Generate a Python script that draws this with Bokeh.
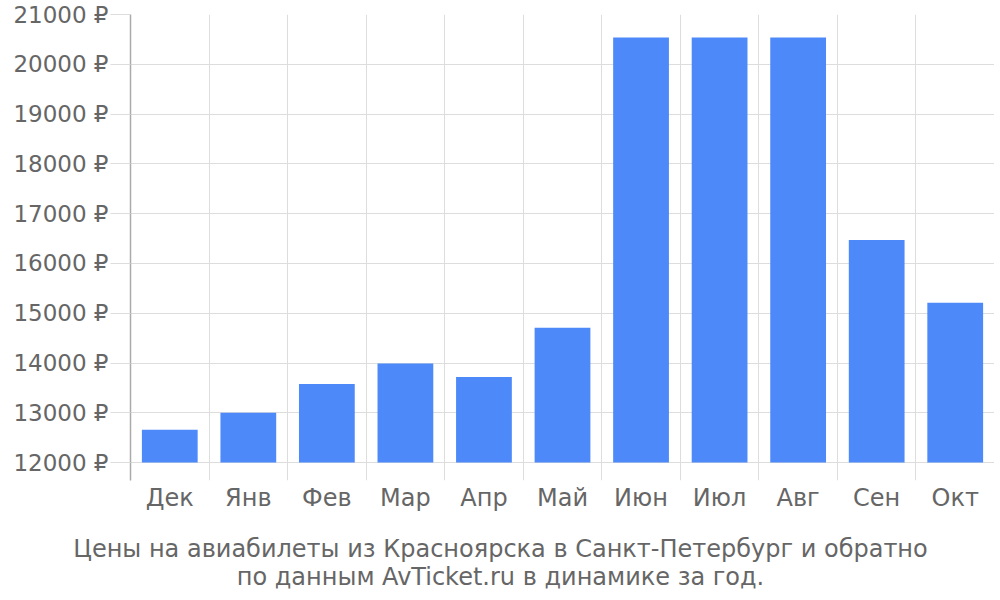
from bokeh.plotting import figure
from bokeh.models import Range1d, FixedTicker, Title
from bokeh.embed import file_html
from bokeh.resources import INLINE

months = ["Дек", "Янв", "Фев", "Мар", "Апр", "Май", "Июн", "Июл", "Авг", "Сен", "Окт"]
prices = [12660, 13000, 13580, 13990, 13720, 14710, 20540, 20540, 20540, 16470, 15210]
y_ticks = [12000, 13000, 14000, 15000, 16000, 17000, 18000, 19000, 20000, 21000]
caption_lines = ["Цены на авиабилеты из Красноярска в Санкт-Петербург и обратно",
                 "по данным AvTicket.ru в динамике за год."]

FONT = "DejaVu Sans"
GRAY = "#666666"

n = len(months)
centers = [i + 0.5 for i in range(n)]

W, H = 994, 592
BL, BR, BT, BB = 130, 0, 14, 112
p = figure(width=W, height=H, output_backend="svg", toolbar_location=None,
           x_range=Range1d(0, n), y_range=Range1d(11640, 21000),
           min_border_left=BL, min_border_right=BR, min_border_top=BT, min_border_bottom=BB)
p.outline_line_color = None

p.vbar(x=centers, top=prices, bottom=12000, width=0.71, color="#4d89f9", line_color=None)

# y axis
yax = p.yaxis[0]
yax.ticker = FixedTicker(ticks=y_ticks)
yax.major_label_overrides = {t: f"{t} ₽" for t in y_ticks}
yax.major_label_text_font = FONT
yax.major_label_text_font_size = "23px"
yax.major_label_text_color = GRAY
yax.axis_line_color = "#aaaaaa"
yax.axis_line_width = 1.5
yax.major_tick_line_color = "#dddddd"
yax.major_tick_out = 20
yax.major_tick_in = 0
yax.minor_tick_line_color = None
yax.major_label_standoff = 2

# x axis
xax = p.xaxis[0]
xax.ticker = FixedTicker(ticks=centers)
xax.major_label_overrides = {c: m for c, m in zip(centers, months)}
xax.major_label_text_font = FONT
xax.major_label_text_font_size = "24px"
xax.major_label_text_color = GRAY
xax.axis_line_color = None
xax.major_tick_line_color = None
xax.major_tick_out = 0
xax.major_tick_in = 0
xax.minor_tick_line_color = None
xax.major_label_standoff = 3

# grids
p.xgrid[0].ticker = FixedTicker(ticks=list(range(n + 1)))
p.xgrid[0].grid_line_color = "#dddddd"
p.ygrid[0].ticker = FixedTicker(ticks=y_ticks)
p.ygrid[0].grid_line_color = "#dddddd"

# two-line caption, centred on the page (right padding shifts the centre left)
frame_center = BL + (W - BL - BR) / 2
shift = int(round(2 * (frame_center - 500)))
t = Title(text="\n".join(caption_lines), align="center", text_align="center",
          text_font=FONT, text_font_size="24px", text_color=GRAY,
          text_font_style="normal", standoff=4,
          padding=dict(left=0, right=shift, top=16, bottom=0))
p.add_layout(t, "below")

open("out.html", "w").write(file_html(p, INLINE))
